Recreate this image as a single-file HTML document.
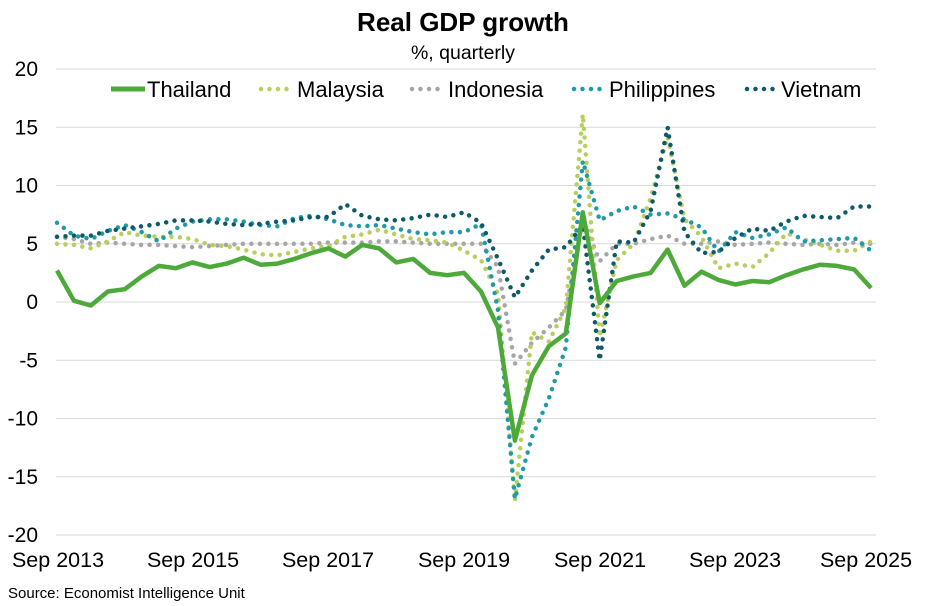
<!DOCTYPE html>
<html><head><meta charset="utf-8"><style>
body{margin:0;background:#fff;}
svg{display:block;font-family:"Liberation Sans",Arial,sans-serif;}
</style></head><body>
<svg id="c" width="927" height="606" viewBox="0 0 927 606" xmlns="http://www.w3.org/2000/svg">
<text x="463" y="31" text-anchor="middle" font-size="26" font-weight="bold" fill="#000">Real GDP growth</text>
<text x="463" y="59" text-anchor="middle" font-size="19.5" fill="#000">%, quarterly</text>
<g id="grid" stroke="#d9d9d9" stroke-width="1"></g>
<g id="ylab" font-size="21" fill="#000" text-anchor="end"></g>
<g font-size="21.5" fill="#000" text-anchor="middle">
<text x="58" y="567">Sep 2013</text>
<text x="193" y="567">Sep 2015</text>
<text x="328" y="567">Sep 2017</text>
<text x="464" y="567">Sep 2019</text>
<text x="600" y="567">Sep 2021</text>
<text x="735" y="567">Sep 2023</text>
<text x="866" y="567">Sep 2025</text>
</g>
<text x="8" y="598" font-size="15" fill="#000">Source: Economist Intelligence Unit</text>
<g id="series" fill="none"></g>
<g font-size="22" fill="#000">
<line x1="111" y1="89" x2="145" y2="89" stroke="#4daa3a" stroke-width="5"/>
<text x="147" y="97">Thailand</text>
<line x1="261" y1="89" x2="291" y2="89" stroke="#b7cf5c" stroke-width="4.5" stroke-linecap="round" stroke-dasharray="0 8.5"/>
<text x="297" y="97">Malaysia</text>
<line x1="412" y1="89" x2="442" y2="89" stroke="#a6a6a6" stroke-width="4.5" stroke-linecap="round" stroke-dasharray="0 8.5"/>
<text x="448" y="97">Indonesia</text>
<line x1="574" y1="89" x2="604" y2="89" stroke="#1f9aa8" stroke-width="4.5" stroke-linecap="round" stroke-dasharray="0 8.5"/>
<text x="609" y="97">Philippines</text>
<line x1="747" y1="89" x2="777" y2="89" stroke="#0e5a6b" stroke-width="4.5" stroke-linecap="round" stroke-dasharray="0 8.5"/>
<text x="781" y="97">Vietnam</text>
</g>
</svg>
<script>
var NS="http://www.w3.org/2000/svg";
function Y(v){return 302-v*11.65;}
function X(i){return 57+i*16.96;}
var g=document.getElementById('grid'),yl=document.getElementById('ylab');
for(var v=-20;v<=20;v+=5){
 var l=document.createElementNS(NS,'line');l.setAttribute('x1',56);l.setAttribute('x2',876);
 l.setAttribute('y1',Y(v));l.setAttribute('y2',Y(v));g.appendChild(l);
 var t=document.createElementNS(NS,'text');t.setAttribute('x',38);t.setAttribute('y',Y(v)+7);t.textContent=v;yl.appendChild(t);
}
var data={
id:[5.6,5.4,5.0,5.1,5.0,4.9,4.9,4.8,4.7,4.8,4.9,5.0,5.0,5.0,5.0,5.0,5.1,5.1,5.1,5.2,5.2,5.1,5.0,5.0,5.0,5.0,3.0,-5.3,-3.5,-2.2,-0.7,7.1,3.5,5.0,5.0,5.4,5.7,5.0,5.0,5.2,4.9,5.0,5.1,5.0,4.9,5.0,4.9,5.1,5.0],
my:[5.0,4.9,4.6,5.2,6.0,5.7,5.6,5.6,5.4,4.9,4.8,4.5,4.1,4.0,4.3,4.6,4.8,5.6,5.8,6.2,5.8,5.4,5.3,5.1,4.4,3.6,0.7,-17.1,-2.6,-3.4,-0.5,16.1,-3.0,3.6,5.0,8.9,14.2,7.1,5.6,2.9,3.3,3.0,4.2,5.9,5.4,4.9,4.4,4.4,5.2],
ph:[6.8,5.7,5.4,6.1,6.6,6.0,5.2,6.3,6.9,7.1,7.1,6.9,6.6,6.5,7.2,7.4,7.1,6.6,6.5,6.6,6.3,6.0,5.8,6.0,6.0,6.7,-0.7,-16.9,-11.6,-8.3,-3.9,12.1,7.0,7.8,8.2,7.5,7.6,7.1,6.4,4.3,6.0,5.5,5.8,6.4,5.2,5.3,5.4,5.5,4.4],
vn:[5.6,5.7,5.7,6.1,6.3,6.5,6.7,7.0,7.0,6.9,6.7,6.6,6.7,6.9,7.0,7.3,7.3,8.4,7.4,7.1,7.0,7.2,7.5,7.3,7.7,6.8,3.7,0.4,2.7,4.5,4.7,6.6,-5.0,5.2,5.1,7.8,15.0,6.0,4.2,4.3,5.5,6.3,6.1,6.9,7.4,7.3,7.2,8.2,8.2],
th:[2.7,0.1,-0.3,0.9,1.1,2.2,3.1,2.9,3.4,3.0,3.3,3.8,3.2,3.3,3.7,4.2,4.6,3.9,4.9,4.6,3.4,3.7,2.5,2.3,2.5,0.9,-2.2,-11.9,-6.3,-3.8,-2.7,7.7,-0.1,1.8,2.2,2.5,4.5,1.4,2.6,1.9,1.5,1.8,1.7,2.3,2.8,3.2,3.1,2.8,1.2]};
var sty={id:['#a6a6a6',0],my:['#b7cf5c',0],ph:['#1f9aa8',0],vn:['#0e5a6b',0],th:['#4daa3a',1]};
var s=document.getElementById('series');
['id','my','ph','vn','th'].forEach(function(k){
 var p=document.createElementNS(NS,'polyline');
 p.setAttribute('points',data[k].map(function(v,i){return X(i).toFixed(1)+','+Y(v).toFixed(1);}).join(' '));
 p.setAttribute('stroke',sty[k][0]);
 if(sty[k][1]){p.setAttribute('stroke-width',4.5);p.setAttribute('stroke-linejoin','round');}
 else{p.setAttribute('stroke-width',4.5);p.setAttribute('stroke-linecap','round');p.setAttribute('stroke-dasharray','0 8.5');}
 s.appendChild(p);
});
</script>
</body></html>
